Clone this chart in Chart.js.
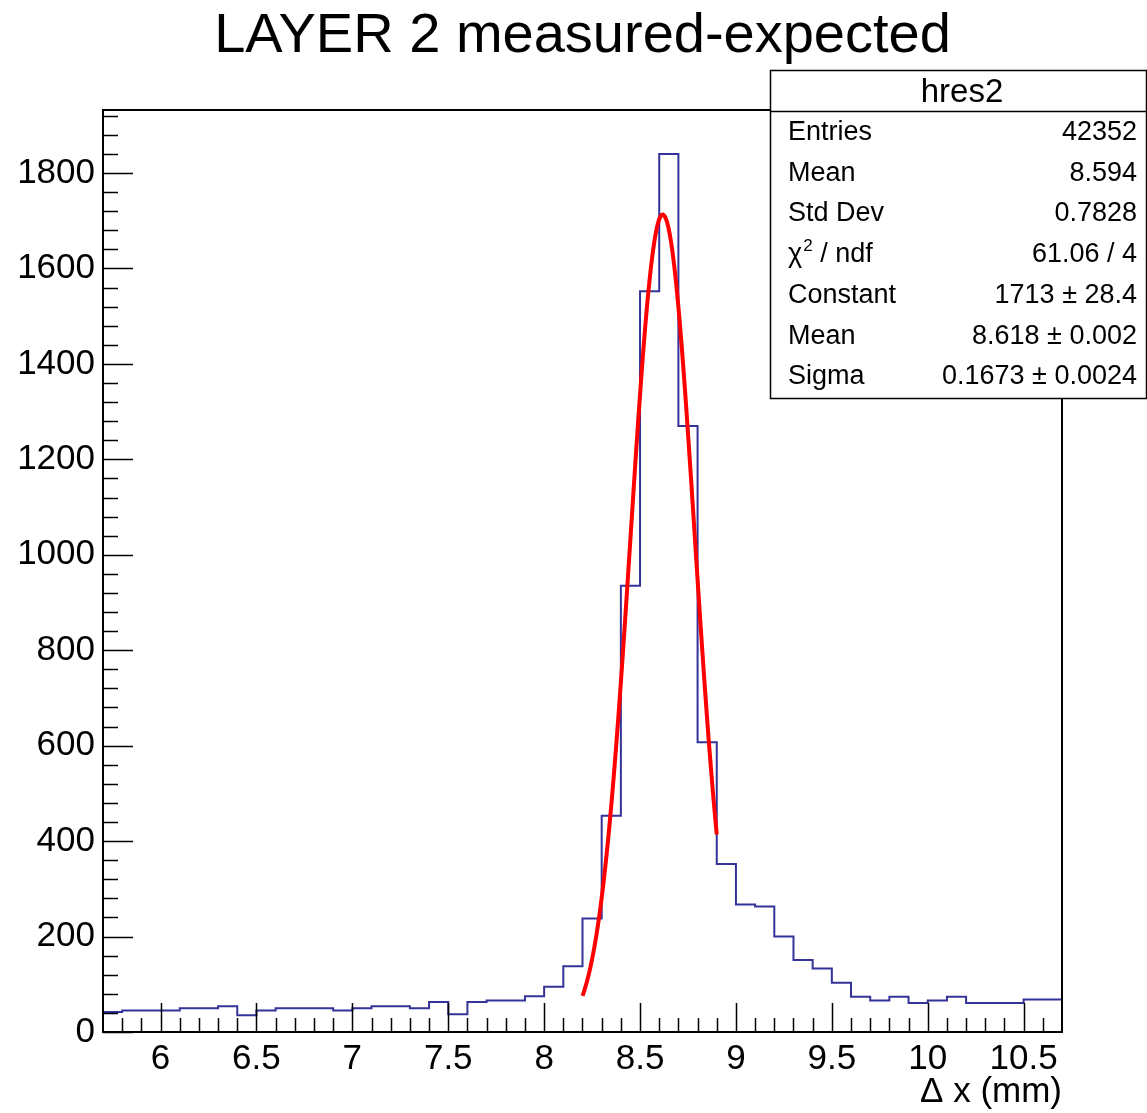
<!DOCTYPE html>
<html>
<head>
<meta charset="utf-8">
<script src="https://cdn.jsdelivr.net/npm/chart.js@4/dist/chart.umd.min.js"></script>
<style>
  html, body { margin: 0; padding: 0; background: #fff; }
  #c { display: block; }
</style>
</head>
<body>
<canvas id="c" width="1147" height="1113"></canvas>
<script>
// Histogram hres2: 50 bins of 0.1 mm from 5.7 to 10.7 mm
const xMin = 5.7;
const xMax = 10.7;
const binCounts = [
  42, 45, 45, 45, 50, 50, 54, 35, 45, 50,
  50, 50, 45, 50, 54, 54, 50, 63, 37, 63,
  66, 66, 75, 95, 138, 238, 453, 935, 1552, 1840,
  1270, 607, 352, 267, 263, 200, 151, 133, 103, 74,
  66, 74, 61, 66, 74, 61, 61, 61, 68, 68
];

// Gaussian fit result (from the stats box) and its range
const fitConstant = 1713;
const fitMean = 8.618;
const fitSigma = 0.1673;
const fitRange = [8.2, 8.9];
const fitPoints = 100;

// Axis tick labels
const xTickValues = [6, 6.5, 7, 7.5, 8, 8.5, 9, 9.5, 10, 10.5];
const yTickValues = [0, 200, 400, 600, 800, 1000, 1200, 1400, 1600, 1800];
const yMax = 1.05 * Math.max(...binCounts);

// Stats box rows
const statsTitle = 'hres2';
const statsLabels = ['Entries', 'Mean', 'Std Dev', 'CHI2', 'Constant', 'Mean', 'Sigma'];
const statsValues = ['42352', '8.594', '0.7828', '61.06 / 4', '1713 \u00b1 28.4', '8.618 \u00b1 0.002', '0.1673 \u00b1 0.0024'];

const nBins = binCounts.length;
const binWidth = (xMax - xMin) / nBins;

// step outline: one point at each bin's lower edge, plus the upper edge of the last bin
const histData = binCounts.map((c, i) => ({ x: xMin + i * binWidth, y: c }));
histData.push({ x: xMax, y: binCounts[nBins - 1] });

const fitData = [];
for (let k = 0; k <= fitPoints; k++) {
  const x = fitRange[0] + (fitRange[1] - fitRange[0]) * k / fitPoints;
  const z = (x - fitMean) / fitSigma;
  fitData.push({ x, y: fitConstant * Math.exp(-0.5 * z * z) });
}

const FONT = '"Liberation Sans", Arial, Helvetica, sans-serif';

// frame and inward-pointing ticks, ROOT style
const frameTicks = {
  id: 'frameTicks',
  afterDatasetsDraw(chart) {
    const { ctx, chartArea: a, scales: { x, y } } = chart;
    ctx.save();
    ctx.strokeStyle = '#000';
    ctx.lineWidth = 1.5;
    ctx.beginPath();
    for (let i = 58; i <= 106; i++) {
      const px = Math.round(x.getPixelForValue(i / 10)) + 0.5;
      const len = (i % 5 === 0) ? 29 : 14;
      ctx.moveTo(px, a.bottom);
      ctx.lineTo(px, a.bottom - len);
    }
    for (let j = 0; j * 40 <= yMax; j++) {
      const py = Math.round(y.getPixelForValue(j * 40)) + 0.5;
      const len = (j % 5 === 0) ? 30 : 15;
      ctx.moveTo(a.left, py);
      ctx.lineTo(a.left + len, py);
    }
    ctx.stroke();
    ctx.lineWidth = 2;
    ctx.strokeRect(a.left, a.top, a.right - a.left, a.bottom - a.top);
    ctx.restore();
  }
};

// title, axis title and the statistics box
const annotations = {
  id: 'annotations',
  afterDraw(chart) {
    const { ctx, chartArea: a } = chart;
    ctx.save();
    ctx.fillStyle = '#000';
    ctx.textBaseline = 'alphabetic';

    ctx.font = '56px ' + FONT;
    ctx.textAlign = 'center';
    ctx.fillText('LAYER 2 measured-expected', (a.left + a.right) / 2, 52);

    ctx.font = '35px ' + FONT;
    ctx.textAlign = 'right';
    ctx.fillText('\u0394 x (mm)', a.right, 1102);

    // stats box
    const bx = 770.5, by = 70.5, bw = 376, bh = 328;
    ctx.fillStyle = '#fff';
    ctx.fillRect(bx, by, bw, bh);
    ctx.strokeStyle = '#000';
    ctx.lineWidth = 1.5;
    ctx.strokeRect(bx, by, bw, bh);
    ctx.beginPath();
    ctx.moveTo(bx, 111.5);
    ctx.lineTo(bx + bw, 111.5);
    ctx.stroke();

    ctx.fillStyle = '#000';
    ctx.font = '33px ' + FONT;
    ctx.textAlign = 'center';
    ctx.fillText(statsTitle, 962, 102);

    ctx.font = '27px ' + FONT;
    const rowY0 = 140, rowStep = 40.7;
    statsLabels.forEach((lab, r) => {
      const yb = rowY0 + r * rowStep;
      ctx.textAlign = 'left';
      if (lab === 'CHI2') {
        ctx.font = '27px ' + FONT;
        ctx.fillText('\u03c7', 788, yb);
        const w = ctx.measureText('\u03c7').width;
        ctx.font = '17px ' + FONT;
        ctx.fillText('2', 788 + w + 1, yb - 11);
        const w2 = ctx.measureText('2').width;
        ctx.font = '27px ' + FONT;
        ctx.fillText(' / ndf', 788 + w + w2 + 1, yb);
      } else {
        ctx.fillText(lab, 788, yb);
      }
      ctx.textAlign = 'right';
      ctx.fillText(statsValues[r], 1137, yb);
    });
    ctx.restore();
  }
};

new Chart(document.getElementById('c'), {
  type: 'line',
  data: {
    datasets: [
      {
        label: 'hres2',
        data: histData,
        stepped: 'before',
        borderColor: '#33339a',
        borderWidth: 2,
        pointRadius: 0,
        fill: false,
        order: 2
      },
      {
        label: 'gaus',
        data: fitData,
        borderColor: '#ff0000',
        borderWidth: 4,
        pointRadius: 0,
        tension: 0,
        fill: false,
        order: 1
      }
    ]
  },
  options: {
    responsive: false,
    animation: false,
    devicePixelRatio: 1,
    layout: { padding: { left: 0, right: 85, top: 110, bottom: 0 } },
    plugins: { legend: { display: false }, tooltip: { enabled: false }, title: { display: false } },
    scales: {
      x: {
        type: 'linear',
        min: xMin,
        max: xMax,
        grid: { display: false, drawTicks: false },
        border: { display: false },
        afterBuildTicks: s => { s.ticks = xTickValues.map(v => ({ value: v })); },
        afterFit: s => { s.height = 81; },
        ticks: {
          autoSkip: false,
          maxRotation: 0,
          padding: 6,
          color: '#000',
          font: { family: FONT, size: 35 },
          callback: v => String(v)
        }
      },
      y: {
        type: 'linear',
        min: 0,
        max: yMax,
        grid: { display: false, drawTicks: false },
        border: { display: false },
        afterBuildTicks: s => { s.ticks = yTickValues.map(v => ({ value: v })); },
        afterFit: s => { s.width = 103; },
        ticks: {
          autoSkip: false,
          padding: 8,
          color: '#000',
          font: { family: FONT, size: 35 },
          callback: v => String(v)
        }
      }
    }
  },
  plugins: [frameTicks, annotations]
});
</script>
</body>
</html>
